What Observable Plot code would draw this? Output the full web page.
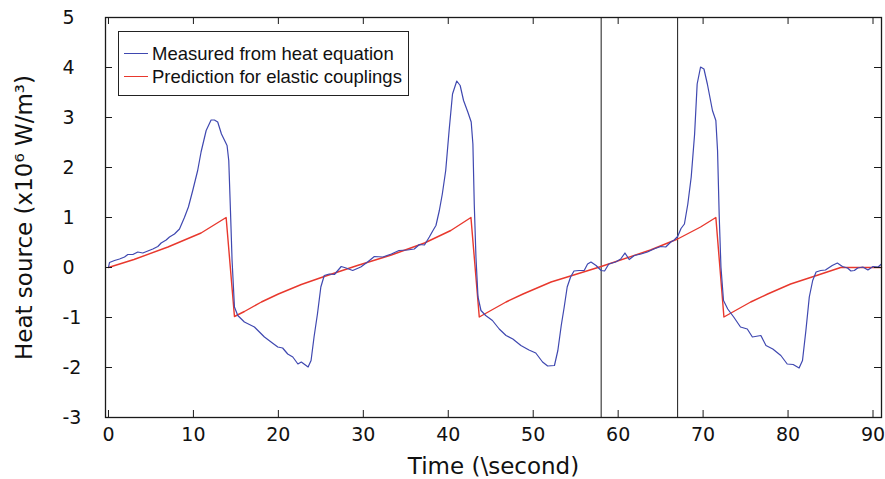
<!DOCTYPE html>
<html>
<head>
<meta charset="utf-8">
<script src="https://cdn.jsdelivr.net/npm/d3@7"></script>
<script src="https://cdn.jsdelivr.net/npm/@observablehq/plot@0.6"></script>
<style>
  body { margin: 0; background: #fff; }
  #wrap { position: relative; width: 885px; height: 479px; }
  #legend { position: absolute; left: 118px; top: 31px; width: 291px; height: 65px; box-sizing: border-box;
            border: 1px solid #222; background: #fff; font-family: "Liberation Sans", Arial, sans-serif; font-size: 18.5px; color: #111; }
  .row { position: absolute; left: 0; height: 23px; line-height: 23px; white-space: nowrap; }
  .sw { position: absolute; left: 5px; top: 11px; width: 24px; height: 0; }
  .lab { position: absolute; left: 33px; top: 0; }
</style>
</head>
<body>
<div id="wrap"></div>
<script>
// ---- data ----
const measuredT = [0.0,0.12,0.71,1.3,1.89,2.28,2.87,3.45,4.04,4.63,5.22,5.81,6.2,6.79,7.18,7.77,8.36,8.94,9.41,9.92,10.5,10.9,11.5,12.08,12.47,12.86,13.3,13.96,14.16,14.36,14.55,14.83,15.22,16.0,17.18,18.36,19.14,19.93,20.5,21.1,21.7,22.3,22.7,23.1,23.5,23.85,24.2,24.6,25.0,25.4,25.99,26.6,27.4,27.97,28.75,29.7,30.5,31.3,32.3,33.3,34.2,35.2,36.0,36.6,37.2,37.77,38.2,38.55,38.95,39.3,39.7,40.1,40.5,41.0,41.4,41.8,42.3,42.7,42.9,43.06,43.26,43.5,43.85,44.4,45.2,46.0,46.8,47.6,48.55,49.5,50.3,51.1,51.7,52.5,52.9,53.3,53.65,54.0,54.4,54.8,55.4,56.0,56.4,56.8,57.4,58.0,58.4,58.9,59.7,60.3,60.8,61.3,61.9,62.7,63.45,64.2,65.0,65.6,66.2,66.6,67.0,67.4,67.8,68.2,68.6,69.0,69.3,69.7,70.1,70.5,71.1,71.5,71.7,71.9,72.1,72.4,72.9,73.6,74.4,75.2,75.8,76.8,77.4,78.2,79.15,79.9,80.6,81.3,81.7,82.1,82.5,82.9,83.3,83.85,84.4,85.2,85.8,86.4,87.0,87.4,87.8,88.2,88.8,89.4,90.0,90.6,91.0];
const measuredV = [0.0,0.10,0.14,0.17,0.21,0.26,0.26,0.31,0.29,0.33,0.37,0.42,0.49,0.55,0.61,0.67,0.77,1.0,1.21,1.54,1.94,2.31,2.74,2.95,2.95,2.91,2.67,2.44,2.14,1.14,0.14,-0.79,-0.96,-1.09,-1.19,-1.39,-1.49,-1.59,-1.61,-1.73,-1.79,-1.93,-1.89,-1.94,-1.99,-1.86,-1.39,-0.93,-0.39,-0.16,-0.13,-0.14,0.02,-0.01,-0.06,0.01,0.11,0.22,0.21,0.27,0.34,0.35,0.37,0.46,0.45,0.61,0.74,0.84,1.14,1.47,1.94,2.74,3.47,3.73,3.64,3.34,3.11,2.91,2.47,1.27,0.21,-0.59,-0.86,-0.96,-1.06,-1.23,-1.36,-1.43,-1.56,-1.65,-1.71,-1.89,-1.97,-1.96,-1.66,-1.16,-0.79,-0.39,-0.19,-0.07,-0.06,-0.06,0.07,0.11,0.04,-0.06,-0.07,0.07,0.11,0.17,0.29,0.16,0.24,0.27,0.31,0.37,0.42,0.41,0.51,0.55,0.62,0.78,0.87,1.27,1.81,2.67,3.67,4.01,3.97,3.67,3.14,2.94,2.34,1.01,0.01,-0.66,-0.83,-0.99,-1.19,-1.23,-1.39,-1.36,-1.56,-1.63,-1.76,-1.93,-1.94,-2.01,-1.86,-1.26,-0.59,-0.26,-0.09,-0.06,-0.05,0.04,0.09,0.02,-0.01,-0.07,-0.06,-0.01,0.01,-0.05,0.02,0.01,0.07];

const predictionT = [0,3,7,10.9,13.85,14.83,16,18,20,22.7,25.4,29.3,33.3,37.2,40.3,42.67,43.65,44.8,46.8,48.8,52.1,54.2,58,63.8,67,69.7,71.5,72.45,73.6,75.6,77.6,80.3,83,86.2,91];
const predictionV = [0,0.16,0.41,0.69,1.0,-0.98,-0.88,-0.69,-0.53,-0.34,-0.18,0.04,0.25,0.49,0.74,1.0,-0.99,-0.88,-0.69,-0.53,-0.29,-0.18,0.02,0.35,0.57,0.81,1.0,-0.99,-0.88,-0.69,-0.53,-0.33,-0.18,0,0];

const markerTimes = [58, 67];
const xTicks = [0,10,20,30,40,50,60,70,80,90];
const yTicks = [-3,-2,-1,0,1,2,3,4,5];
const seriesNames = ["Measured from heat equation", "Prediction for elastic couplings"];
const seriesColors = ["#3f48b0", "#e8382d"];
const xLabel = "Time (\\second)";
const yLabel = "Heat source (x10\u2076 W/m\u00b3)";

// ---- tables ----
const measured = measuredT.map((t, i) => ({t, v: measuredV[i]}));
const prediction = predictionT.map((t, i) => ({t, v: predictionV[i]}));

const W = 885, H = 479, ML = 105, MR = 4, MT = 17, MB = 62;
const FW = W - ML - MR, FH = H - MT - MB;
const TL = 7;
const ink = "#1a1a1a";

const chart = Plot.plot({
  width: W, height: H,
  marginLeft: ML, marginRight: MR, marginTop: MT, marginBottom: MB,
  style: {fontFamily: "'DejaVu Sans', sans-serif", fontSize: "19px", color: "#111", background: "white", overflow: "visible"},
  x: {domain: [-0.35, 91]},
  y: {domain: [-3, 5]},
  marks: [
    Plot.ruleX(markerTimes, {x: d => d, stroke: ink, strokeWidth: 1}),
    Plot.line(prediction, {x: "t", y: "v", stroke: seriesColors[1], strokeWidth: 1.4}),
    Plot.line(measured, {x: "t", y: "v", stroke: seriesColors[0], strokeWidth: 1.2}),
    Plot.frame({stroke: ink, strokeWidth: 1.3}),
    Plot.tickX(xTicks, {x: d => d, insetTop: FH - TL, stroke: ink}),
    Plot.tickX(xTicks, {x: d => d, insetBottom: FH - TL, stroke: ink}),
    Plot.tickY(yTicks, {y: d => d, insetRight: FW - TL, stroke: ink}),
    Plot.tickY(yTicks, {y: d => d, insetLeft: FW - TL, stroke: ink}),
    Plot.axisX(xTicks, {tickSize: 0, tickPadding: 9.5, label: null, tickFormat: d => String(d), fill: "#111"}),
    Plot.axisY(yTicks, {tickSize: 0, tickPadding: 43, textAnchor: "start", label: null, tickFormat: d => String(d), fill: "#111"}),
    Plot.text([xLabel], {text: d => d, frameAnchor: "bottom", lineAnchor: "middle", textAnchor: "middle", dy: 49.5, fontSize: 23, fill: "#111"}),
    Plot.text([yLabel], {text: d => d, frameAnchor: "left", lineAnchor: "middle", textAnchor: "middle", dx: -80.7, rotate: -90, fontSize: 23, fill: "#111"})
  ]
});

const wrap = document.getElementById("wrap");
wrap.appendChild(chart);

const legend = document.createElement("div");
legend.id = "legend";
const rowTops = [9.5, 32.5];
seriesNames.forEach((name, i) => {
  const row = document.createElement("div");
  row.className = "row";
  row.style.top = rowTops[i] + "px";
  const sw = document.createElement("div");
  sw.className = "sw";
  sw.style.borderTop = (i === 0 ? "1.2px" : "1.5px") + " solid " + seriesColors[i];
  const lab = document.createElement("div");
  lab.className = "lab";
  lab.textContent = name;
  row.appendChild(sw);
  row.appendChild(lab);
  legend.appendChild(row);
});
wrap.appendChild(legend);
</script>
</body>
</html>
